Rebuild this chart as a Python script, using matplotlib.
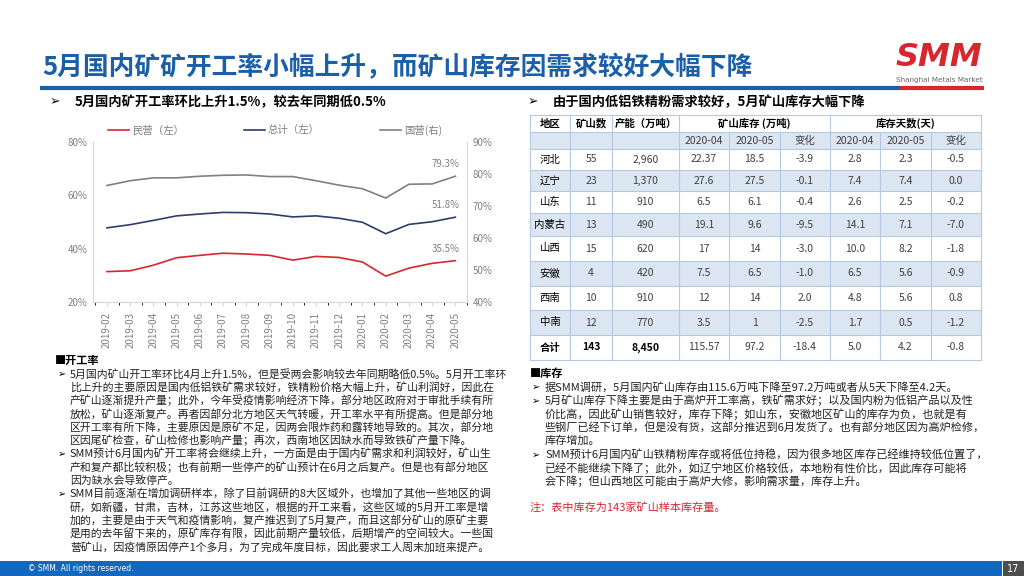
import numpy as np
import matplotlib
matplotlib.use("Agg")
import matplotlib.pyplot as plt
from matplotlib.patches import Rectangle
from matplotlib.ticker import FuncFormatter

plt.rcParams['font.family'] = ['Noto Sans CJK SC', 'DejaVu Sans']

# ---- chart data ----
months = ["2019-02", "2019-03", "2019-04", "2019-05", "2019-06", "2019-07",
          "2019-08", "2019-09", "2019-10", "2019-11", "2019-12", "2020-01",
          "2020-02", "2020-03", "2020-04", "2020-05"]
private_rate = [31.4, 31.7, 33.8, 36.6, 37.5, 38.3, 38.0, 37.5, 35.7, 37.1,
                36.7, 35.0, 29.7, 32.7, 34.5, 35.5]
total_rate = [47.8, 49.0, 50.6, 52.3, 53.0, 53.6, 53.5, 53.0, 51.9, 52.3,
              51.4, 49.9, 45.6, 49.1, 50.1, 51.8]
state_rate = [76.4, 77.9, 78.8, 78.8, 79.3, 79.6, 79.7, 79.2, 79.2, 77.9,
              76.5, 75.4, 72.5, 76.8, 76.9, 79.3]

# ---- table data ----
regions = ["河北", "辽宁", "山东", "内蒙古", "山西", "安徽", "西南", "中南", "合计"]
mine_count = ["55", "23", "11", "13", "15", "4", "10", "12", "143"]
capacity = ["2,960", "1,370", "910", "490", "620", "420", "910", "770", "8,450"]
stock_apr = ["22.37", "27.6", "6.5", "19.1", "17", "7.5", "12", "3.5", "115.57"]
stock_may = ["18.5", "27.5", "6.1", "9.6", "14", "6.5", "14", "1", "97.2"]
stock_chg = ["-3.9", "-0.1", "-0.4", "-9.5", "-3.0", "-1.0", "2.0", "-2.5", "-18.4"]
days_apr = ["2.8", "7.4", "2.6", "14.1", "10.0", "6.5", "4.8", "1.7", "5.0"]
days_may = ["2.3", "7.4", "2.5", "7.1", "8.2", "5.6", "5.6", "0.5", "4.2"]
days_chg = ["-0.5", "0.0", "-0.2", "-7.0", "-1.8", "-0.9", "0.8", "-1.2", "-0.8"]

title = "5月国内矿矿开工率小幅上升，而矿山库存因需求较好大幅下降"
sub_left = "5月国内矿开工率环比上升1.5%，较去年同期低0.5%"
sub_right = "由于国内低铝铁精粉需求较好，5月矿山库存大幅下降"

left_blocks = [
    ["5月国内矿山开工率环比4月上升1.5%，但是受两会影响较去年同期略低0.5%。5月开工率环",
     "比上升的主要原因是国内低铝铁矿需求较好，铁精粉价格大幅上升，矿山利润好，因此在",
     "产矿山逐渐提升产量；此外，今年受疫情影响经济下降，部分地区政府对于审批手续有所",
     "放松，矿山逐渐复产。再者因部分北方地区天气转暖，开工率水平有所提高。但是部分地",
     "区开工率有所下降，主要原因是原矿不足，因两会限炸药和露转地导致的。其次，部分地",
     "区因尾矿检查，矿山检修也影响产量；再次，西南地区因缺水而导致铁矿产量下降。"],
    ["SMM预计6月国内矿开工率将会继续上升，一方面是由于国内矿需求和利润较好，矿山生",
     "产和复产都比较积极；也有前期一些停产的矿山预计在6月之后复产。但是也有部分地区",
     "因为缺水会导致停产。"],
    ["SMM目前逐渐在增加调研样本，除了目前调研的8大区域外，也增加了其他一些地区的调",
     "研，如新疆，甘肃，吉林，江苏这些地区，根据的开工来看，这些区域的5月开工率是增",
     "加的，主要是由于天气和疫情影响，复产推迟到了5月复产，而且这部分矿山的原矿主要",
     "是用的去年留下来的，原矿库存有限，因此前期产量较低，后期增产的空间较大。一些国",
     "营矿山，因疫情原因停产1个多月，为了完成年度目标，因此要求工人周末加班来提产。"],
]
right_blocks = [
    ["据SMM调研，5月国内矿山库存由115.6万吨下降至97.2万吨或者从5天下降至4.2天。"],
    ["5月矿山库存下降主要是由于高炉开工率高，铁矿需求好；以及国内粉为低铝产品以及性",
     "价比高，因此矿山销售较好，库存下降；如山东，安徽地区矿山的库存为负，也就是有",
     "些钢厂已经下订单，但是没有货，这部分推迟到6月发货了。也有部分地区因为高炉检修，",
     "库存增加。"],
    ["SMM预计6月国内矿山铁精粉库存或将低位持稳，因为很多地区库存已经维持较低位置了，",
     "已经不能继续下降了；此外，如辽宁地区价格较低，本地粉有性价比，因此库存可能将",
     "会下降；但山西地区可能由于高炉大修，影响需求量，库存上升。"],
]
note = "注：表中库存为143家矿山样本库存量。"

BLUE = "#1a5fa8"
RED = "#d7262e"
NAVY = "#2e3d6b"
GRAY = "#808080"

fig = plt.figure(figsize=(10.24, 5.76), dpi=100)

# background axes in pixel coordinates for page decoration
bg = fig.add_axes([0, 0, 1, 1])
bg.set_xlim(0, 1024)
bg.set_ylim(576, 0)
bg.axis('off')

bg.text(42, 68, title, fontsize=18.5, color=BLUE, va='center', ha='left',
        fontweight='bold')
bg.plot([40, 900], [88, 88], color=BLUE, lw=3, solid_capstyle='butt')
bg.plot([900, 984], [88, 88], color=RED, lw=3, solid_capstyle='butt')
bg.text(939, 57, "SMM", fontsize=23, color=RED, ha='center', va='center',
        fontweight='heavy', style='italic', family='DejaVu Sans')
bg.text(939, 80, "Shanghai Metals Market", fontsize=5.2, color='#666666',
        ha='center', va='center', family='DejaVu Sans')

bg.text(50, 102, "➢", fontsize=9, va='center', ha='left')
bg.text(75, 102, sub_left, fontsize=9.5, fontweight='bold', va='center')
bg.text(528, 102, "➢", fontsize=9, va='center', ha='left')
bg.text(553, 102, sub_right, fontsize=9.5, fontweight='bold', va='center')

# footer
bg.add_patch(Rectangle((0, 561), 1002, 15, color='#1268bf', lw=0))
bg.add_patch(Rectangle((1003, 561), 21, 15, color='#4d4d4d', lw=0))
bg.text(28, 568.5, "© SMM. All rights reserved.", fontsize=5.5, color='white',
        va='center', family='DejaVu Sans')
bg.text(1013, 568.5, "17", fontsize=7, color='white', va='center', ha='center',
        family='DejaVu Sans')

# ---- table ----
col_x = [530, 570, 612, 679, 729, 780, 830, 880, 931, 981]
row_y = [115, 132, 149, 170, 191, 213, 236, 261, 286, 310, 335, 360]
LIGHT = "#dce6f2"
BORDER = "#b7c9e2"
for r in range(len(row_y) - 1):
    if r == 1 or (r >= 2 and (r - 2) % 2 == 1):
        bg.add_patch(Rectangle((col_x[0], row_y[r]), col_x[-1] - col_x[0],
                               row_y[r + 1] - row_y[r], color=LIGHT, lw=0))
for y in row_y:
    bg.plot([col_x[0], col_x[-1]], [y, y], color=BORDER, lw=0.8)
for i, x in enumerate(col_x):
    top = row_y[1] if i in (4, 5, 7, 8) else row_y[0]
    bg.plot([x, x], [top, row_y[-1]], color=BORDER, lw=0.8)


def cell(c, r, s, bold=False, color='#404040'):
    cx = (col_x[c] + col_x[c + 1]) / 2
    cy = (row_y[r] + row_y[r + 1]) / 2
    bg.text(cx, cy, s, fontsize=7.5, ha='center', va='center', color=color,
            fontweight='bold' if bold else 'normal')


cell(0, 0, "地区", True, 'black')
cell(1, 0, "矿山数", True, 'black')
cell(2, 0, "产能（万吨）", True, 'black')
bg.text((col_x[3] + col_x[6]) / 2, (row_y[0] + row_y[1]) / 2, "矿山库存 (万吨)",
        fontsize=7.5, fontweight='bold', ha='center', va='center')
bg.text((col_x[6] + col_x[9]) / 2, (row_y[0] + row_y[1]) / 2, "库存天数(天)",
        fontsize=7.5, fontweight='bold', ha='center', va='center')
for c, s in zip(range(3, 9), ["2020-04", "2020-05", "变化"] * 2):
    cell(c, 1, s)

columns = [regions, mine_count, capacity, stock_apr, stock_may, stock_chg,
           days_apr, days_may, days_chg]
for i in range(len(regions)):
    last = i == len(regions) - 1
    for c, col in enumerate(columns):
        bold = last and c < 3
        cell(c, i + 2, col[i], bold, 'black' if (bold or c == 0) else '#404040')

# ---- text blocks ----
bg.text(55, 360, "■开工率", fontsize=8, fontweight='bold', va='center')
y = 374
for block in left_blocks:
    for j, line in enumerate(block):
        if j == 0:
            bg.text(58, y, "➢", fontsize=7, va='center')
        bg.text(70, y, line, fontsize=7.8, va='center', color='#222222')
        y += 13.3

bg.text(530, 373, "■库存", fontsize=8, fontweight='bold', va='center')
y = 387
for block in right_blocks:
    for j, line in enumerate(block):
        if j == 0:
            bg.text(532, y, "➢", fontsize=7, va='center')
        bg.text(545, y, line, fontsize=8.0, va='center', color='#222222')
        y += 13.5
bg.text(530, 507, note, fontsize=8, color=RED, style='italic', va='center')

# ---- line chart ----
ax = fig.add_axes([93 / 1024, 1 - 302 / 576, 374 / 1024, 160 / 576])
ax.set_facecolor('none')
x = np.arange(len(months))
l1, = ax.plot(x, private_rate, color=RED, lw=1.2, label="民营（左）")
l2, = ax.plot(x, total_rate, color=NAVY, lw=1.2, label="总计（左）")
ax.set_ylim(20, 80)
ax.set_yticks([20, 40, 60, 80])
ax.set_xlim(-0.6, 15.4)
ax.set_xticks(x)
ax.set_xticklabels(months, rotation=90)
ax.yaxis.set_major_formatter(FuncFormatter(lambda v, p: f"{v:.0f}%"))

ax2 = ax.twinx()
l3, = ax2.plot(x, state_rate, color=GRAY, lw=1.2, label="国营(右)")
ax2.set_ylim(40, 90)
ax2.set_yticks([40, 50, 60, 70, 80, 90])
ax2.yaxis.set_major_formatter(FuncFormatter(lambda v, p: f"{v:.0f}%"))

for a in (ax, ax2):
    for s in a.spines.values():
        s.set_color('#d9d9d9')
    a.spines['top'].set_visible(False)
    a.tick_params(labelsize=7, colors=GRAY, length=0, pad=4)
ax.spines['right'].set_visible(False)
ax.tick_params(axis='x', length=3, color='#d9d9d9')
ax.set_xticks(np.arange(len(months) + 1) - 0.5, minor=True)

for series, a in ((state_rate, ax2), (total_rate, ax), (private_rate, ax)):
    a.annotate(f"{series[-1]:.1f}%", (x[-1], series[-1]), xytext=(-7, 5),
               textcoords='offset points', ha='center', va='bottom',
               fontsize=7, color=GRAY)

ax.legend([l1, l2, l3], [l1.get_label(), l2.get_label(), l3.get_label()],
          ncol=3, mode='expand', loc='center', frameon=False,
          bbox_to_anchor=(0.04, 1.03, 0.893, 0.09), borderaxespad=0,
          borderpad=0, handlelength=2.0, handletextpad=0.3, fontsize=7.5,
          labelcolor=GRAY)

fig.savefig("out.png", dpi=100)
